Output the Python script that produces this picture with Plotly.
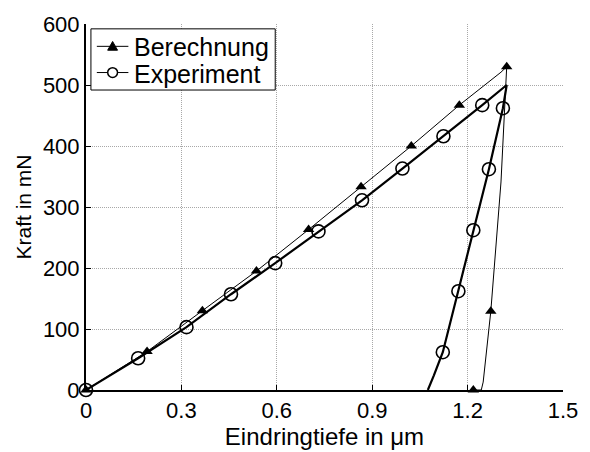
import plotly.graph_objects as go

# Berechnung (simulation): load-displacement curve vertices
ber_x = [0.0, 0.192, 0.366, 0.536, 0.700, 0.865, 1.023, 1.174, 1.283, 1.305, 1.323,
         1.305, 1.273, 1.249, 1.243, 1.218]
ber_y = [0, 63, 130, 195, 263, 333, 400, 467, 511, 521, 530,
         341, 129, 13, 0, 0]
# indices of vertices carrying a triangle marker
ber_mark = [0, 1, 2, 3, 4, 5, 6, 7, 10, 12, 15]

# Experiment: measured load-displacement curve vertices
exp_x = [0.0, 0.164, 0.316, 0.456, 0.595, 0.731, 0.868, 0.995, 1.124, 1.246, 1.323,
         1.311, 1.267, 1.218, 1.171, 1.122, 1.094, 1.075]
exp_y = [0, 52, 103, 157, 208, 260, 311, 363, 416, 467, 500,
         462, 362, 262, 162, 62, 24, 0]
# indices of vertices carrying a circle marker
exp_mark = [0, 1, 2, 3, 4, 5, 6, 7, 8, 9, 11, 12, 13, 14, 15]

series_names = ["Berechnung", "Experiment"]

x_ticks = [0, 0.3, 0.6, 0.9, 1.2, 1.5]
x_tick_text = ["0", "0.3", "0.6", "0.9", "1.2", "1.5"]
y_ticks = [0, 100, 200, 300, 400, 500, 600]

FONT = "Liberation Sans, Arial, sans-serif"
W, H = 590, 452
ML, MR, MT, MB = 86, 20, 18, 57
PW, PH = W - ML - MR, H - MT - MB


def px(xp):
    """pixel column -> paper x"""
    return (xp - ML) / PW


def py(yp):
    """pixel row -> paper y"""
    return (H - MB - yp) / PH


fig = go.Figure()

# curves
fig.add_trace(go.Scatter(x=ber_x, y=ber_y, mode="lines",
                         line=dict(color="black", width=1), showlegend=False,
                         hoverinfo="skip"))
fig.add_trace(go.Scatter(x=exp_x, y=exp_y, mode="lines",
                         line=dict(color="black", width=2.2), showlegend=False,
                         hoverinfo="skip"))

# markers on a subset of vertices
fig.add_trace(go.Scatter(x=[ber_x[i] for i in ber_mark], y=[ber_y[i] for i in ber_mark],
                         mode="markers", showlegend=False, cliponaxis=False,
                         marker=dict(symbol="triangle-up", size=10, color="black")))
fig.add_trace(go.Scatter(x=[exp_x[i] for i in exp_mark], y=[exp_y[i] for i in exp_mark],
                         mode="markers", showlegend=False, cliponaxis=False,
                         marker=dict(symbol="circle-open", size=13, color="black",
                                     line=dict(width=1.6, color="black"))))

# legend box drawn with shapes so the row spacing stays compact
shapes = [dict(type="rect", xref="paper", yref="paper", layer="above",
               x0=px(91), x1=px(278), y0=py(86), y1=py(23),
               line=dict(color="black", width=1), fillcolor="white")]
annotations = []
rows = [41, 68]
for name, row in zip(series_names, rows):
    shapes.append(dict(type="line", xref="paper", yref="paper", layer="above",
                       x0=px(97), x1=px(129), y0=py(row), y1=py(row),
                       line=dict(color="black", width=1)))
    annotations.append(dict(text=name, xref="paper", yref="paper",
                            x=px(133), y=py(row + 1), xanchor="left", yanchor="middle",
                            showarrow=False,
                            font=dict(family=FONT, size=25, color="black")))
# triangle symbol (Berechnung)
tri = (f"M {px(108)} {py(rows[0] + 4)} L {px(118)} {py(rows[0] + 4)} "
       f"L {px(113)} {py(rows[0] - 5)} Z")
shapes.append(dict(type="path", xref="paper", yref="paper", layer="above", path=tri,
                   fillcolor="black", line=dict(color="black", width=1)))
# open circle symbol (Experiment)
shapes.append(dict(type="circle", xref="paper", yref="paper", layer="above",
                   x0=px(108), x1=px(118), y0=py(rows[1] + 5), y1=py(rows[1] - 5),
                   fillcolor="white", line=dict(color="black", width=1.5)))

axis_common = dict(
    showgrid=True, gridcolor="#a8a8a8", griddash="1px,1px", gridwidth=1,
    showline=True, linecolor="black", linewidth=2,
    ticks="inside", ticklen=5, tickwidth=1, tickcolor="black",
    zeroline=False, mirror=False,
    tickfont=dict(family=FONT, size=22, color="black"),
)

fig.update_layout(
    width=W, height=H,
    margin=dict(l=ML, r=MR, t=MT, b=MB),
    paper_bgcolor="white", plot_bgcolor="white",
    font=dict(family=FONT, size=22, color="black"),
    showlegend=False,
    shapes=shapes,
    annotations=annotations,
    xaxis=dict(range=[0, 1.5], tickvals=x_ticks, ticktext=x_tick_text,
               title=dict(text="Eindringtiefe in μm", standoff=0,
                          font=dict(family=FONT, size=24, color="black")),
               **axis_common),
    yaxis=dict(range=[0, 600], tickvals=y_ticks,
               title=dict(text="Kraft in mN", standoff=6,
                          font=dict(family=FONT, size=21, color="black")),
               **axis_common),
)

fig.write_html("out.html")
